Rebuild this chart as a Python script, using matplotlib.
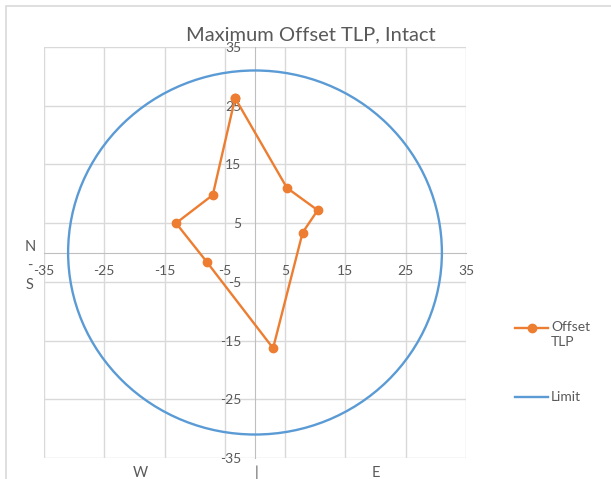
import matplotlib.pyplot as plt
from matplotlib.lines import Line2D
from matplotlib.patches import Circle, Rectangle

# data
offset_x = [-3.3, 5.3, 10.4, 7.9, 3.0, -8.0, -13.1, -7.0, -3.3]
offset_y = [26.3, 11.0, 7.2, 3.4, -16.3, -1.6, 5.0, 9.8, 26.3]
limit_radius = 31.0
ticks = [-35, -25, -15, -5, 5, 15, 25, 35]
tick_labels = ["-35", "-25", "-15", "-5", "5", "15", "25", "35"]

ORANGE = "#ED7D31"
BLUE = "#5B9BD5"
TEXT = "#595959"

plt.rcParams["font.family"] = ["Lato", "DejaVu Sans"]

W, H = 611, 479
fig = plt.figure(figsize=(W / 100, H / 100), dpi=100)

# chart-area border
fig.add_artist(Rectangle((6 / W, -0.2), 1.2, 1.2 - 6 / H,
                         transform=fig.transFigure, fill=False,
                         edgecolor="#d9d9d9", linewidth=1.2))

ax = fig.add_axes([44 / W, 1 - 458 / H, (466 - 44) / W, (458 - 47) / H])
ax.set_xlim(-35, 35)
ax.set_ylim(-35, 35)
ax.set_xticks(ticks, tick_labels)
ax.set_yticks(ticks, tick_labels)
ax.grid(True, color="#d9d9d9", linewidth=1.0)
ax.set_axisbelow(True)

for side in ["top", "right"]:
    ax.spines[side].set_visible(False)
ax.spines["left"].set_position("zero")
ax.spines["bottom"].set_position("zero")
ax.spines["left"].set_color("#bfbfbf")
ax.spines["bottom"].set_color("#bfbfbf")
ax.tick_params(length=0, labelsize=10, labelcolor=TEXT)
ax.tick_params(axis="x", pad=9)
ax.tick_params(axis="y", pad=10)

ax.add_patch(Circle((0, 0), limit_radius, fill=False, edgecolor=BLUE,
                    linewidth=1.7, zorder=3))
ax.plot(offset_x, offset_y, color=ORANGE, linewidth=1.7, marker="o",
        markersize=6, zorder=4)

fig.text(311 / W, 1 - 35 / H, "Maximum Offset TLP, Intact", ha="center",
         va="center", fontsize=14.5, color=TEXT)

# axis titles
fig.text(30 / W, 1 - 266 / H, "N\n-\nS", ha="center", va="center",
         fontsize=10.5, color=TEXT, linespacing=1.45)
for x, s in [(140, "W"), (256, "|"), (376, "E")]:
    fig.text(x / W, 1 - 473 / H, s, ha="center", va="center",
             fontsize=10.5, color=TEXT)

# legend
fig.add_artist(Line2D([515 / W, 548 / W], [1 - 328 / H] * 2,
                      transform=fig.transFigure, color=ORANGE, linewidth=1.7))
fig.add_artist(Line2D([531.5 / W], [1 - 328 / H], transform=fig.transFigure,
                      color=ORANGE, marker="o", markersize=6))
fig.text(551 / W, 1 - 321 / H, "Offset\nTLP", ha="left", va="top",
         fontsize=10, color=TEXT, linespacing=1.3)
fig.add_artist(Line2D([515 / W, 548 / W], [1 - 397 / H] * 2,
                      transform=fig.transFigure, color=BLUE, linewidth=1.7))
fig.text(551 / W, 1 - 397 / H, "Limit", ha="left", va="center",
         fontsize=10, color=TEXT)

fig.savefig("out.png", dpi=100)
